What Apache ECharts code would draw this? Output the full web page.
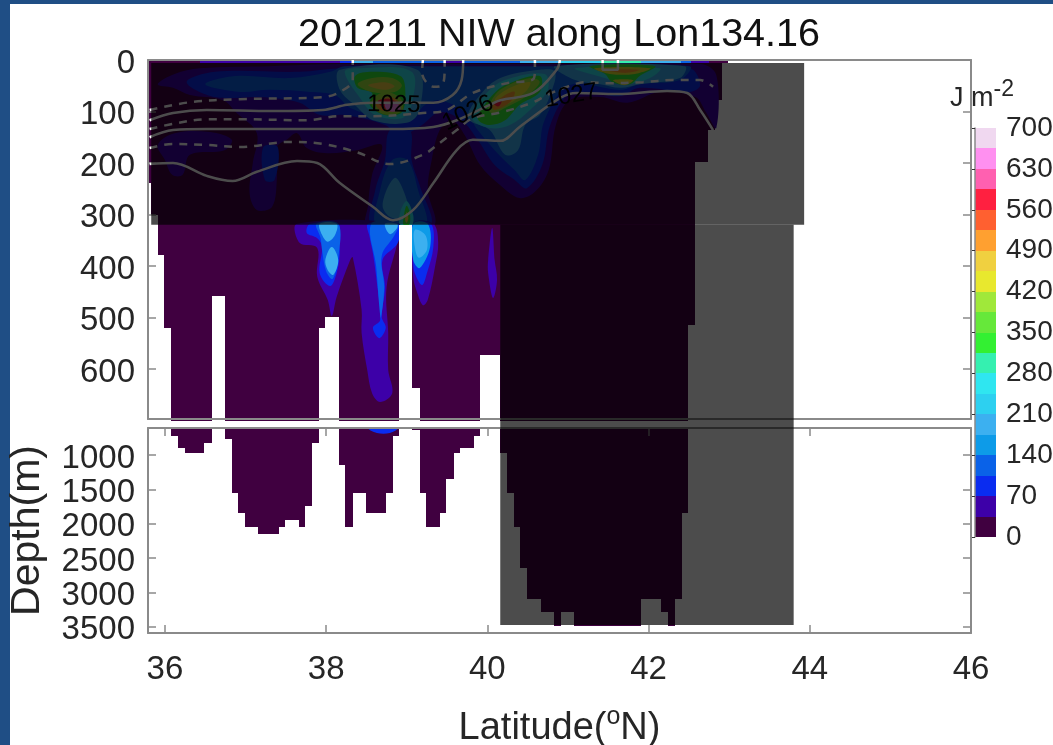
<!DOCTYPE html>
<html><head><meta charset="utf-8">
<style>html,body{margin:0;padding:0;background:#fff;overflow:hidden}
#fl{position:absolute;left:0;top:0;width:10px;height:745px;background:#1f4e85}
#ft{position:absolute;left:0;top:0;width:1053px;height:4px;background:#1f4e85}
#c{position:absolute;left:0;top:0;width:1053px;height:745px}</style>
<script src="https://cdn.jsdelivr.net/npm/echarts@6/dist/echarts.min.js"></script>
</head><body><div id="fl"></div><div id="ft"></div><div id="c"></div>
<script>
const FONT='"Liberation Sans",Arial,sans-serif', INK='#262626', FRAME='#8a8a8a';
const levelColors=['#400040','#3d00a8','#0a2cf0','#0a62e8','#0d9be8','#3cb0f0','#2dd0f0','#2fe6f0','#35f0b0','#33f032','#66e83a','#a0e83a','#e8e82e','#f0d040','#ffa030','#ff6030','#ff2040','#ff60b0','#ff90f0','#f0d8f0'];
const colorbarTicks=[0,70,140,210,280,350,420,490,560,630,700];
const latTicks=[36,38,40,42,44,46];
const upperDepthTicks=[0,100,200,300,400,500,600];
const lowerDepthTicks=[1000,1500,2000,2500,3000,3500];

// Ocean columns, upper panel: west edge, east edge, bottom depth (m)
const upperWest=[35.79,35.83,35.91,35.99,36.08,36.58,36.74,37.91,37.99,38.16,38.91,39.07,39.16,39.91,40.16,42.49,42.58,42.74,42.83,42.91];
const upperEast=[35.83,35.91,35.99,36.08,36.58,36.74,37.91,37.99,38.16,38.91,39.07,39.16,39.91,40.16,42.49,42.58,42.74,42.83,42.91,42.99];
const upperBottom=[239,301,379,520,700,458,700,520,498,700,320,637,700,573,700,515,199,136,78,6];
// Ocean columns, lower panel
const lowerWest=[36.08,36.16,36.25,36.49,36.74,36.83,36.91,36.99,37.16,37.41,37.49,37.66,37.74,37.83,38.16,38.24,38.33,38.49,38.74,38.83,39.07,39.16,39.24,39.41,39.49,39.58,39.66,39.83,40.16,40.24,40.33,40.41,40.49,40.66,40.83,40.91,41.08,41.91,42.16,42.24,42.33,42.41];
const lowerEast=[36.16,36.25,36.49,36.58,36.83,36.91,36.99,37.16,37.41,37.49,37.66,37.74,37.83,37.91,38.24,38.33,38.49,38.74,38.83,38.91,39.16,39.24,39.41,39.49,39.58,39.66,39.83,39.91,40.24,40.33,40.41,40.49,40.66,40.83,40.91,41.08,41.91,42.16,42.24,42.33,42.41,42.49];
const lowerBottom=[724,898,975,821,770,1548,1843,2051,2148,2051,1945,2051,1741,821,1145,2051,1548,1843,1548,724,640,1548,2051,1843,1353,975,894,724,975,1548,2051,2646,3097,3291,3495,3291,3495,3097,3291,3495,3097,1843];
// Surface strip (0-6 m)
const surfWest=[35.79,36.43,38.17,38.33,38.58,39.47,39.7,40.4,40.9,41.4,41.9,42.4,42.53,42.75];
const surfEast=[36.43,38.17,38.33,38.58,39.47,39.7,40.4,40.9,41.4,41.9,42.4,42.53,42.75,42.99];
const surfValue=[10,50,80,190,120,50,120,190,220,290,190,120,50,10];

// Filled energy contours: lower bound (J m-2) and outline [lat, depth]
const bandValues=[35,35,70,70,105,70,105,175,245,315,455,
 175,245,315,385,455,385,490,560,630,
 175,245,315,385,420,490,560,
 175,245,315,420,490,420,
 35,70,105,175,175,70,105,175,35,70,140,175,35];
const bandOutlines=[
[[35.91,47],[36.12,27],[36.43,16],[37.3,12],[38.17,8],[39.54,8],[40.9,8],[42.64,8],[42.84,29],[42.84,132],[42.71,101],[42.58,72],[42.14,62],[41.74,83],[41.4,72],[41.02,78],[40.85,126],[40.76,214],[40.59,256],[40.4,268],[40.16,243],[39.91,204],[39.72,146],[39.56,117],[39.41,136],[39.31,194],[39.26,252],[39.33,322],[38.51,322],[38.52,282],[38.57,223],[38.69,165],[38.38,175],[38.01,181],[37.76,171],[37.64,142],[37.51,155],[37.39,169],[37.39,227],[37.33,285],[37.14,291],[37.05,258],[37.09,200],[37.14,142],[36.89,103],[36.72,78],[36.31,68],[36.1,54]],
[[35.91,165],[36.12,142],[36.56,140],[36.83,155],[36.74,175],[36.31,184],[36.22,223],[36.09,223],[36,194]],
[[36.27,43],[36.62,23],[37.67,23],[38.17,16],[39.41,16],[40.9,16],[42.51,16],[42.64,49],[42.51,62],[41.89,54],[41.65,70],[41.27,64],[41,68],[40.78,126],[40.68,204],[40.49,249],[40.34,233],[40.09,204],[39.88,155],[39.68,117],[39.41,101],[39.19,126],[38.92,146],[38.73,126],[38.23,107],[37.92,107],[37.67,83],[37.18,72],[36.62,72]],
[[37.22,169],[37.4,169],[37.36,233],[37.24,233]],
[[36.5,47],[36.87,31],[37.55,35],[38.05,23],[38.23,12],[39.41,12],[40.9,12],[42.51,12],[42.39,39],[41.89,47],[41.65,58],[41.02,49],[40.71,117],[40.63,184],[40.47,233],[40.34,214],[40.09,175],[39.88,136],[39.72,101],[39.41,78],[39.23,87],[39.06,113],[38.73,113],[38.3,93],[38.11,68],[37.8,62],[37.3,58],[36.93,62]],
[[38.57,322],[38.61,252],[38.73,194],[38.79,136],[39.04,136],[39.06,194],[39.16,243],[39.29,322]],
[[38.63,322],[38.67,252],[38.82,194],[39.01,194],[39.14,252],[39.23,322]],
[[38.7,282],[38.85,229],[38.98,262],[39.01,299],[38.82,307]],
[[38.92,322],[38.92,295],[39,274],[39.08,301],[39.06,322]],
[[38.96,320],[38.97,297],[39,283],[39.04,299],[39.03,320]],
[[38.98,311],[39,295],[39.02,307],[39,316]],
[[38.17,19],[39.13,19],[39.16,97],[39,122],[38.58,117],[38.38,91],[38.17,58]],
[[38.23,23],[38.42,16],[39.06,23],[39.06,87],[38.94,113],[38.61,107],[38.44,78]],
[[38.36,31],[38.57,23],[38.92,31],[38.98,54],[38.94,101],[38.73,107],[38.54,87],[38.57,64],[38.39,54]],
[[38.39,47],[38.57,35],[38.82,35],[38.94,49],[38.85,62],[38.57,62]],
[[38.52,49],[38.73,43],[38.85,51],[38.73,58]],
[[38.57,78],[38.73,62],[38.92,74],[38.95,97],[38.79,107],[38.61,97]],
[[38.62,85],[38.79,72],[38.92,85],[38.89,99],[38.67,97]],
[[38.64,80],[38.8,76],[38.9,88],[38.75,95]],
[[38.73,85],[38.89,85],[38.92,97],[38.77,99]],
[[39.76,113],[39.91,68],[40.16,35],[40.65,19],[40.84,23],[40.78,68],[40.65,107],[40.47,126],[40.38,175],[40.22,184],[40.03,136]],
[[39.81,113],[39.97,68],[40.22,39],[40.71,27],[40.75,58],[40.53,97],[40.28,126],[40.03,132]],
[[39.88,113],[40.01,78],[40.22,49],[40.65,31],[40.65,62],[40.4,87],[40.22,117],[40.01,126]],
[[40.01,93],[40.16,58],[40.53,35],[40.65,43],[40.47,72],[40.22,93],[40.06,103]],
[[40.09,78],[40.28,54],[40.53,43],[40.47,62],[40.22,87]],
[[40.06,89],[40.22,68],[40.34,62],[40.28,82],[40.09,97]],
[[40.08,85],[40.12,78],[40.18,78],[40.14,90]],
[[40.84,12],[42.45,12],[42.39,35],[41.89,47],[41.65,54],[41.4,47],[41.09,39]],
[[41.09,16],[42.14,16],[42.02,35],[41.71,47],[41.46,35]],
[[41.27,12],[42.08,12],[41.89,31],[41.77,47],[41.55,43],[41.46,27]],
[[41.33,16],[42.02,16],[41.83,27],[41.52,27]],
[[41.46,19],[41.89,19],[41.71,25]],
[[41.56,39],[41.81,39],[41.7,49]],
[[37.64,318],[37.67,355],[37.89,365],[37.89,421],[38.02,466],[38.07,497],[38.13,460],[38.3,388],[38.33,383],[38.44,485],[38.44,530],[38.51,602],[38.57,647],[38.67,664],[38.82,647],[38.77,602],[38.77,530],[38.75,441],[38.89,350],[38.9,318]],
[[37.76,336],[37.8,318],[38.15,318],[38.16,353],[38.17,375],[38.13,414],[38.05,439],[37.92,414],[37.95,363],[37.89,346]],
[[37.88,318],[38.15,318],[38.15,385],[38.08,425],[38,410],[37.95,370],[37.93,345]],
[[37.92,318],[38.13,318],[38.11,340],[38.02,353],[37.95,340]],
[[37.99,388],[38.07,363],[38.15,388],[38.09,417],[38.02,408]],
[[38.52,318],[38.54,344],[38.58,375],[38.63,433],[38.67,505],[38.58,520],[38.66,540],[38.74,520],[38.69,499],[38.73,441],[38.7,388],[38.89,355],[38.9,318]],
[[38.56,318],[38.62,400],[38.66,480],[38.68,500],[38.72,440],[38.69,380],[38.85,340],[38.89,318]],
[[38.73,318],[38.79,338],[38.88,326],[38.88,318]],
[[39.08,318],[39.33,318],[39.39,355],[39.35,402],[39.26,466],[39.2,476],[39.13,452],[39.08,421]],
[[39.08,318],[39.3,318],[39.33,363],[39.25,414],[39.19,437],[39.1,414],[39.08,394]],
[[39.08,318],[39.26,318],[39.29,363],[39.16,404],[39.08,388]],
[[39.1,330],[39.23,340],[39.25,369],[39.15,384],[39.1,363]],
[[40.06,326],[40.09,388],[40.12,427],[40.07,462],[40.01,414],[40.01,388]]
];
const deepPatch=[[38.52,607],[38.89,607],[38.79,680],[38.63,680]];

// Density contours [lat, depth]
const sigma1025=[[35.81,117],[36.1,103],[36.52,97],[37.34,99],[37.96,97],[38.26,87],[38.58,83],[39,83],[39.33,83],[39.57,68],[39.68,39],[39.7,0]];
const sigma1026=[[35.81,150],[36.1,136],[36.52,134],[37.34,134],[38.17,134],[38.79,134],[39.33,130],[39.62,117],[40.03,87],[40.16,78],[40.57,64],[40.86,19],[40.9,0]];
const sigma1027=[[35.81,202],[36.1,200],[36.52,225],[36.84,235],[37.14,217],[37.64,196],[37.89,200],[38.17,239],[38.58,285],[38.83,311],[39.08,291],[39.33,239],[39.62,175],[39.82,155],[40.16,157],[40.4,130],[40.9,74],[41.11,64],[41.61,66],[42.23,60],[42.48,64],[42.64,97],[42.8,136]];
const sigmaBox=[[41.43,0],[41.43,19],[41.62,19],[41.62,0]];
const dashA=[[35.81,97],[36.31,82],[36.93,76],[37.96,72],[38.17,62],[38.33,39],[38.33,0]];
const dashB=[[39.2,0],[39.19,25],[39.33,52],[39.44,49],[39.47,14],[39.47,0]];
const dashC=[[35.81,134],[36.1,124],[36.52,115],[36.93,115],[37.76,117],[38.17,109],[38.58,109],[39.2,103],[39.5,97],[39.82,64],[40.24,45],[40.57,37],[40.59,16],[40.59,0]];
const dashD=[[35.81,171],[36.1,163],[36.52,165],[36.93,169],[37.55,159],[37.96,163],[38.38,179],[38.79,202],[39.2,184],[39.41,161],[39.62,136],[39.82,113],[40.19,101],[40.57,82],[40.74,68],[40.99,52],[41.24,43],[41.48,45],[41.93,43],[42.3,39],[42.64,39],[42.8,52]];
const contourLabels=['1025','1026','1027'];
const contourLabelLat=[38.84,39.76,41.04];
const contourLabelDepth=[87,103,70];
const contourLabelTilt=[-0.02,0.45,0.17];
// Shaded boxes: west, east, top, bottom (upper-panel depth)
const shadeWest=[35.83,40.16];
const shadeEast=[43.93,43.8];
const shadeTop=[6,320];
const shadeBottom=[320,1097];

const color=v=>v<0?'#fff':levelColors[Math.min(19,Math.floor(v/35))];
const rectSeries=(name,xi,rows,z)=>({type:'custom',name,xAxisIndex:xi,yAxisIndex:xi,z,silent:true,data:rows,
 renderItem(p,api){const a=api.coord([api.value(0),api.value(2)]),b=api.coord([api.value(1),api.value(3)]);
  const x0=Math.round(a[0]),x1=Math.round(b[0]),y0=Math.round(a[1]),y1=Math.round(b[1]);
  return {type:'rect',shape:{x:x0,y:y0,width:x1-x0,height:y1-y0},style:{fill:color(api.value(4))}};}});
const polySeries=(name,xi,outlines,vals,z)=>({type:'custom',name,xAxisIndex:xi,yAxisIndex:xi,z,silent:true,
 data:outlines.map((o,i)=>[o[0][0],o[0][1],i]),
 renderItem(p,api){const i=api.value(2);
  return {type:'polygon',z2:i,shape:{points:outlines[i].map(q=>api.coord(q)),smooth:0.35},style:{fill:color(vals[i])}};}});
const lineSer=(name,data,dashed)=>({type:'line',name,data,xAxisIndex:0,yAxisIndex:0,z:5,smooth:0.35,symbol:'none',silent:true,
 lineStyle:{color:'#fff',width:2.5,type:dashed?[8,7]:'solid'}});
const yAx=(grid,min,max,ticks,pos,labels,extra)=>Object.assign({type:'value',gridIndex:grid,inverse:true,min,max,position:pos,z:3,
 splitLine:{show:false},axisLine:{show:true,onZero:false,lineStyle:{color:FRAME,width:2}},
 axisTick:{show:true,inside:true,length:8,customValues:ticks,lineStyle:{color:FRAME,width:1.5}},
 axisLabel:{show:labels,customValues:ticks,formatter:v=>'{n|'+v+'}',margin:13,
   rich:{n:{color:INK,fontFamily:FONT,fontSize:33,padding:[7,0,0,0]}}}},extra||{});
const xAx=(grid,pos,ticks,labels,extra)=>Object.assign({type:'value',gridIndex:grid,min:35.79,max:46,position:pos,z:3,
 splitLine:{show:false},axisLine:{show:true,onZero:false,lineStyle:{color:FRAME,width:2}},
 axisTick:{show:!!ticks,inside:true,length:8,customValues:ticks||[],lineStyle:{color:FRAME,width:1.5}},
 axisLabel:{show:labels,customValues:ticks||[],color:INK,fontFamily:FONT,fontSize:33,margin:20}},extra||{});

const chart=echarts.init(document.getElementById('c'),null,{renderer:'canvas'});
chart.setOption({
 animation:false,
 title:{text:'201211 NIW along Lon134.16',left:554,top:10,textAlign:'center',textStyle:{color:'#111',fontFamily:FONT,fontSize:39.5,fontWeight:'normal'}},
 grid:[{left:148,top:60,width:823,height:359,outerBoundsMode:'none'},{left:148,top:428,width:823,height:205,outerBoundsMode:'none'},{left:975,top:128,width:21,height:409,outerBoundsMode:'none'}],
 xAxis:[
  xAx(0,'bottom',null,false),xAx(0,'top',null,false),
  xAx(1,'bottom',latTicks,true,{name:'{a|Latitude(}{s|o}{a|N)}',nameLocation:'middle',nameGap:72,
    nameTextStyle:{rich:{a:{fontFamily:FONT,fontSize:38,color:INK},s:{fontFamily:FONT,fontSize:25,color:INK,verticalAlign:'bottom',padding:[0,0,22,0]}}}}),
  xAx(1,'top',latTicks,false),
  {type:'value',gridIndex:2,min:0,max:1,show:false}
 ],
 yAxis:[
  yAx(0,0,697,upperDepthTicks,'left',true),yAx(0,0,697,upperDepthTicks,'right',false),
  yAx(1,607,3590,lowerDepthTicks,'left',true,{name:'Depth(m)',nameLocation:'middle',nameGap:100,nameRotate:90,nameTextStyle:{fontFamily:FONT,fontSize:41,color:INK}}),
  yAx(1,607,3590,lowerDepthTicks,'right',false),
  {type:'value',gridIndex:2,min:0,max:700,interval:70,position:'right',z:3,splitLine:{show:false},
   axisLine:{show:true,lineStyle:{color:FRAME,width:1.5}},axisTick:{show:true,inside:true,length:3,lineStyle:{color:'#333'}},
   axisLabel:{color:INK,fontFamily:FONT,fontSize:28,margin:10,customValues:colorbarTicks}}
 ],
 series:[
  rectSeries('ocean upper',0,upperWest.map((w,i)=>[w,upperEast[i],0,upperBottom[i],0]),1),
  rectSeries('ocean lower',2,lowerWest.map((w,i)=>[w,lowerEast[i],607,lowerBottom[i],0]),1),
  polySeries('energy',0,bandOutlines,bandValues,2),
  polySeries('energy deep',2,[deepPatch],[70],2),
  rectSeries('no data gap',0,[[38.91,39.07,320,697,-1]],2.5),
  rectSeries('surface',0,surfWest.map((w,i)=>[w,surfEast[i],0,6,surfValue[i]]),2.6),
  lineSer('1025',sigma1025,false),lineSer('1026',sigma1026,false),lineSer('1027',sigma1027,false),
  lineSer('box',sigmaBox,false),
  lineSer('d1',dashA,true),lineSer('d2',dashB,true),lineSer('d3',dashC,true),lineSer('d4',dashD,true),
  {type:'custom',name:'contour labels',xAxisIndex:0,yAxisIndex:0,z:6,silent:true,
   data:contourLabels.map((t,i)=>[contourLabelLat[i],contourLabelDepth[i],i]),
   renderItem(p,api){const i=api.value(2),q=api.coord([api.value(0),api.value(1)]);
    return {type:'text',x:q[0],y:q[1],rotation:contourLabelTilt[i],style:{text:contourLabels[i],fill:'#000',font:'24px '+FONT,align:'center',verticalAlign:'middle'}};}},
  {type:'custom',name:'shade',xAxisIndex:0,yAxisIndex:0,z:10,silent:true,
   data:shadeWest.map((w,i)=>[w,shadeEast[i],shadeTop[i],shadeBottom[i]]),
   renderItem(p,api){const a=api.coord([api.value(0),api.value(2)]),b=api.coord([api.value(1),api.value(3)]);
    return {type:'rect',shape:{x:a[0],y:a[1],width:b[0]-a[0],height:b[1]-a[1]},style:{fill:'rgba(0,0,0,0.7)'}};}},
  {type:'custom',name:'colorbar',xAxisIndex:4,yAxisIndex:4,z:2,silent:true,
   data:levelColors.map((c,i)=>[i*35,(i+1)*35]),
   renderItem(p,api){const a=api.coord([0,api.value(1)]),b=api.coord([1,api.value(0)]);
    return {type:'rect',shape:{x:a[0],y:Math.round(a[1]),width:b[0]-a[0],height:Math.round(b[1])-Math.round(a[1])},style:{fill:color(api.value(0))}};}}
 ],
 graphic:[{type:'text',left:950,top:78,z:12,style:{rich:{a:{fontFamily:FONT,fontSize:27,fill:INK},s:{fontFamily:FONT,fontSize:23,fill:INK,verticalAlign:'bottom',padding:[0,0,18,0]}},text:'{a|J m}{s|-2}'}}]
});
</script></body></html>
